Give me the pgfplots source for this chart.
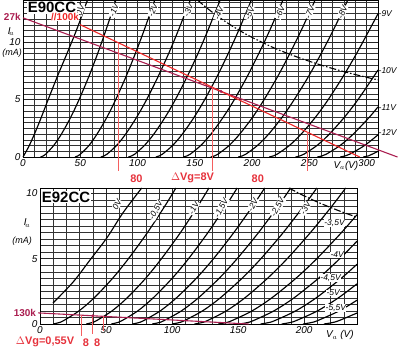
\documentclass[border=0pt]{standalone}
\usepackage{fontspec}
\setmainfont{Liberation Sans}
\usepackage{pgfplots}
\pgfplotsset{compat=1.18}
\definecolor{lred}{RGB}{240,40,40}
\definecolor{maroonl}{RGB}{170,30,80}
\definecolor{vred}{RGB}{245,95,95}
\definecolor{lblred}{RGB}{230,50,60}
\pgfplotsset{
  tubeplot/.style={
    scale only axis, clip=false,
    grid=both,
    major grid style={black!85, line width=0.4pt},
    minor grid style={black!80, line width=0.28pt},
    axis line style={black, line width=0.5pt},
    tick style={draw=none},
    tick label style={font=\fontsize{10}{12}\selectfont\itshape},
    /pgf/number format/assume math mode=true,
    xticklabel style={yshift=1pt},
    yticklabel style={xshift=1pt},
  },
  tube/.style={black, line width=1.15pt, smooth, no marks},
  pw/.style={black, line width=1.1pt, smooth, no marks, dash pattern=on 7pt off 2pt on 1.5pt off 2pt},
}
\tikzset{clab/.style={font=\fontsize{8.5}{10}\selectfont\itshape, fill=white, inner sep=0.5pt}}
\begin{document}
\begin{tikzpicture}[x=1bp,y=1bp]
\useasboundingbox (0,0) rectangle (400,-354);
% ---------------- E90CC ----------------
\begin{axis}[tubeplot,
  at={(23bp,-157bp)}, anchor=south west,
  width=355bp, height=157bp,
  xmin=0, xmax=310, ymin=0, ymax=13.65,
  xtick={0,50,...,300}, ytick={0,5,10},
  minor xtick={0,10,...,310}, minor ytick={0,0.5,...,13.5},
]
\addplot[tube] coordinates {(0,0)(5,0.9)(10,2.0)(15,3.2)(22,5)(30,7.0)(38,8.9)(45,10.6)(50,11.9)(55,13.3)(56.5,13.65)};
\addplot[tube] coordinates {(15.3,0)(17.8,0.1)(19.9,0.25)(26.8,1)(33.6,2)(41.9,3.5)(49.0,5)(57.5,7)(65.2,9)(72.3,11)(81.0,13.6)};
\addplot[tube] coordinates {(45.4,0)(48.0,0.1)(50.2,0.25)(57.6,1)(64.7,2)(73.5,3.5)(81.0,5)(90.0,7)(98.1,9)(105.7,11)(114.9,13.6)};
\addplot[tube] coordinates {(68,0)(70.9,0.1)(73.4,0.25)(81.7,1)(89.7,2)(99.5,3.5)(108,5)(118,7)(127.2,9)(135.6,11)(145.9,13.6)};
\addplot[tube] coordinates {(92,0)(95,0.1)(97.6,0.25)(106,1)(114.3,2)(124.4,3.5)(133.1,5)(143.4,7)(152.8,9)(161.4,11)(172,13.6)};
\addplot[tube] coordinates {(116,0)(119.1,0.1)(121.8,0.25)(130.6,1)(139.2,2)(149.7,3.5)(158.7,5)(169.5,7)(179.2,9)(188.3,11)(199.2,13.6)};
\addplot[tube] coordinates {(140,0)(143.3,0.1)(146.1,0.25)(155.2,1)(164.2,2)(175.1,3.5)(184.6,5)(195.8,7)(205.9,9)(215.4,11)(226.8,13.6)};
\addplot[tube] coordinates {(164,0)(167.4,0.1)(170.3,0.25)(180,1)(189.3,2)(200.8,3.5)(210.6,5)(222.4,7)(233,9)(242.9,11)(254.9,13.6)};
\addplot[tube] coordinates {(188,0)(191.6,0.1)(194.6,0.25)(204.7,1)(214.6,2)(226.6,3.5)(236.9,5)(249.3,7)(260.4,9)(270.8,11)(283.4,13.6)};
\addplot[tube] coordinates {(215,0)(218.8,0.1)(222,0.25)(232.6,1)(243,2)(255.7,3.5)(266.6,5)(279.5,7)(291.3,9)(302.2,11)(310,12.45)};
\addplot[tube] coordinates {(238,0)(242,0.1)(245.4,0.25)(256.7,1)(267.6,2)(281,3.5)(292.6,5)(306.3,7)(310,7.57)};
\addplot[tube] coordinates {(257,0)(261.3,0.1)(264.9,0.25)(276.9,1)(288.5,2)(302.8,3.5)(310,4.36)};
\addplot[tube] coordinates {(277,0)(281.6,0.1)(285.4,0.25)(298.3,1)(310,1.93)};
\addplot[tube] coordinates {(297,0)(301.8,0.1)(305,0.25)(310,0.5)};
% power limit
\addplot[pw] coordinates {(152.4,13.65)(160,13.0)(170,12.24)(180,11.56)(190,10.95)(200,10.4)(220,9.45)(240,8.67)(260,8.0)(280,7.43)(300,6.93)(310,6.71)};
% curve labels
\node[clab, rotate=68] at (axis cs:50,12.75) {0V};
\node[clab, rotate=68] at (axis cs:79.5,12.75) {-1V};
\node[clab, rotate=68] at (axis cs:113.5,12.75) {-2V};
\node[clab, rotate=68] at (axis cs:144.5,12.75) {-3V};
\node[clab, rotate=68] at (axis cs:171,12.5) {-4V};
\node[clab, rotate=68] at (axis cs:198,12.5) {-5V};
\node[clab, rotate=68] at (axis cs:224.5,12.6) {-6V};
\node[clab, rotate=68] at (axis cs:250.5,12.6) {-7V};
\node[clab, rotate=68] at (axis cs:279,12.6) {-8V};
\node[clab, anchor=west, fill=none] at (axis cs:310,12.5) {-9V};
\node[clab, anchor=west, fill=none] at (axis cs:310,7.5) {-10V};
\node[clab, anchor=west, fill=none] at (axis cs:310,4.3) {-11V};
\node[clab, anchor=west, fill=none] at (axis cs:310,2.1) {-12V};
% axis names
\node[font=\fontsize{10}{12}\selectfont\itshape] at (axis cs:-10.5,10.9) {I$_{\!a}$};
\node[font=\fontsize{9}{11}\selectfont\itshape] at (axis cs:-9.5,9.0) {(mA)};
\node[font=\fontsize{10}{12}\selectfont\itshape, fill=white, inner sep=0.5pt] at (axis cs:282,-0.75) {V$_a$(V)};
% load lines
\addplot[maroonl, line width=1.1pt] coordinates {(0,12.1)(327,0)};
\addplot[lred, line width=1.1pt] coordinates {(50,11.5)(294,0)};
\addplot[vred, line width=0.7pt] coordinates {(83,9.94)(83,-1.2)};
\addplot[vred, line width=0.7pt] coordinates {(165,6.08)(165,-1.2)};
\addplot[vred, line width=0.7pt] coordinates {(248,2.17)(248,-1.2)};
\addplot[maroonl, only marks, mark=*, mark size=1.3pt] coordinates {(173,5.7)};
% annotations
\node[font=\fontsize{15}{16}\selectfont\bfseries, fill=white, inner sep=1pt] at (axis cs:25.3,13.0) {E90CC};
\node[font=\fontsize{10}{11}\selectfont\bfseries, text=maroonl, anchor=east, inner sep=0.5pt] at (axis cs:-1.5,12.15) {27k};
\node[font=\fontsize{10}{11}\selectfont\bfseries, text=lred, fill=white, inner sep=0.5pt] at (axis cs:36.7,12.15) {//100k};
\node[font=\fontsize{11}{12}\selectfont\bfseries, text=lblred] at (axis cs:99,-1.85) {80};
\node[font=\fontsize{11}{12}\selectfont\bfseries, text=lblred] at (axis cs:148,-1.85) {$\Delta$Vg=8V};
\node[font=\fontsize{11}{12}\selectfont\bfseries, text=lblred] at (axis cs:205,-1.85) {80};
\end{axis}
% ---------------- E92CC ----------------
\begin{axis}[tubeplot,
  at={(40bp,-324bp)}, anchor=south west,
  width=317bp, height=136bp,
  xmin=0, xmax=240, ymin=0, ymax=10.4,
  xtick={0,50,...,200}, ytick={0,5,10},
  minor xtick={0,10,...,240}, minor ytick={0,0.5,...,10},
]
\addplot[tube] coordinates {(9.8,1.6)(25,3.2)(37.9,4.9)(50.7,6.6)(62.8,8.5)(77,10.4)};
\addplot[tube] coordinates {(10,0)(14.2,0.1)(17.7,0.25)(29.5,1)(41.0,2)(55.0,3.5)(67.0,5)(81.4,7)(94.4,9)(102.9,10.4)};
\addplot[tube] coordinates {(35,0)(39.2,0.1)(42.7,0.25)(54.5,1)(66.0,2)(80.0,3.5)(92.0,5)(106.4,7)(119.4,9)(127.9,10.4)};
\addplot[tube] coordinates {(54,0)(58.3,0.1)(61.9,0.25)(74,1)(85.7,2)(100.1,3.5)(112.5,5)(127.2,7)(140.5,9)(149.3,10.4)};
\addplot[tube] coordinates {(70,0)(74.5,0.1)(78.3,0.25)(91,1)(103.3,2)(118.4,3.5)(131.4,5)(146.8,7)(160.9,9)(170.1,10.4)};
\addplot[tube] coordinates {(85,0)(89.7,0.1)(93.7,0.25)(107,1)(119.9,2)(135.7,3.5)(149.3,5)(165.5,7)(180.2,9)(189.8,10.4)};
\addplot[tube] coordinates {(100,0)(105.0,0.1)(109.1,0.25)(123,1)(136.5,2)(153.0,3.5)(167.3,5)(184.2,7)(199.5,9)(209.6,10.4)};
\addplot[tube] coordinates {(117,0)(122.2,0.1)(126.5,0.25)(141,1)(155.1,2)(172.3,3.5)(187.2,5)(204.8,7)(220.9,9)(231.4,10.4)};
\addplot[tube] coordinates {(135,0)(140.5,0.1)(145.1,0.25)(160.5,1)(175.5,2)(193.8,3.5)(209.6,5)(228.3,7)(240,8.36)};
\addplot[tube] coordinates {(151,0)(156.6,0.1)(161.3,0.25)(177,1)(192.3,2)(210.9,3.5)(227.0,5)(240,6.33)};
\addplot[tube] coordinates {(167,0)(172.7,0.1)(177.5,0.25)(193.5,1)(209.1,2)(228.1,3.5)(240,4.57)};
\addplot[tube] coordinates {(183,0)(188.8,0.1)(193.7,0.25)(210,1)(225.9,2)(240,3.07)};
\addplot[tube] coordinates {(199,0)(204.9,0.1)(209.9,0.25)(226.5,1)(240,1.82)};
\addplot[tube] coordinates {(215,0)(221.0,0.1)(226.1,0.25)(240,0.84)};
% power limit
\addplot[pw] coordinates {(188.5,10.4)(195,10.05)(200,9.8)(210,9.33)(220,8.91)(230,8.52)(240,8.17)};
% labels
\node[clab, rotate=62] at (axis cs:58.3,9.1) {0V};
\node[clab, rotate=62] at (axis cs:88,8.7) {-0,5V};
\node[clab, rotate=62] at (axis cs:116.5,8.87) {-1V};
\node[clab, rotate=62] at (axis cs:137.5,8.87) {-1,5V};
\node[clab, rotate=62] at (axis cs:161.2,9.1) {-2V};
\node[clab, rotate=62] at (axis cs:180.2,8.95) {-2,5V};
\node[clab, rotate=62] at (axis cs:201,8.87) {-3V};
\node[clab] at (axis cs:223,7.72) {-3,5V};
\node[clab] at (axis cs:225,5.28) {-4V};
\node[clab] at (axis cs:220,3.5) {-4,5V};
\node[clab] at (axis cs:222,2.37) {-5V};
\node[clab] at (axis cs:224,1.22) {-5,5V};
\node[font=\fontsize{10}{12}\selectfont\itshape] at (axis cs:-9.8,7.7) {I$_{\!a}$};
\node[font=\fontsize{9}{11}\selectfont\itshape] at (axis cs:-13.6,6.3) {(mA)};
\node[font=\fontsize{10}{12}\selectfont\itshape, fill=white, inner sep=0.5pt] at (axis cs:227,-0.85) {V$_a$ (V)};
% load line
\addplot[maroonl, line width=1.1pt] coordinates {(-1.5,0.85)(158,0)};
\addplot[vred, line width=0.7pt] coordinates {(31,0.67)(31,-0.95)};
\addplot[vred, line width=0.7pt] coordinates {(40,0.63)(40,-0.8)};
\addplot[vred, line width=0.7pt] coordinates {(48,0.58)(48,-0.5)};
\addplot[maroonl, only marks, mark=*, mark size=1.3pt] coordinates {(40,0.63)};
\node[font=\fontsize{15}{16}\selectfont\bfseries, fill=white, inner sep=1pt] at (axis cs:19.7,9.7) {E92CC};
\node[font=\fontsize{10}{11}\selectfont\bfseries, text=maroonl] at (axis cs:-11.4,0.84) {130k};
\node[font=\fontsize{11}{12}\selectfont\bfseries, text=lblred] at (axis cs:3.8,-1.4) {$\Delta$Vg=0,55V};
\node[font=\fontsize{11}{12}\selectfont\bfseries, text=lblred] at (axis cs:34.8,-1.4) {8};
\node[font=\fontsize{11}{12}\selectfont\bfseries, text=lblred] at (axis cs:43.2,-1.4) {8};
\end{axis}
\end{tikzpicture}
\end{document}
